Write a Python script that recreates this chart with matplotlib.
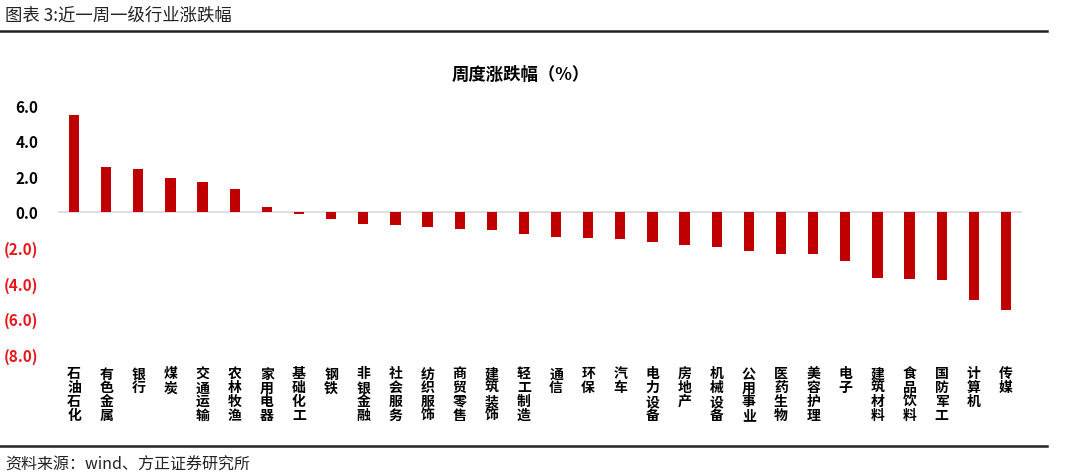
import matplotlib
matplotlib.use("Agg")
import matplotlib.pyplot as plt
from matplotlib.lines import Line2D
from matplotlib.ticker import FuncFormatter

plt.rcParams['font.family'] = ['Noto Sans CJK SC', 'DejaVu Sans']

categories = ["石油石化", "有色金属", "银行", "煤炭", "交通运输", "农林牧渔", "家用电器",
              "基础化工", "钢铁", "非银金融", "社会服务", "纺织服饰", "商贸零售", "建筑装饰",
              "轻工制造", "通信", "环保", "汽车", "电力设备", "房地产", "机械设备", "公用事业",
              "医药生物", "美容护理", "电子", "建筑材料", "食品饮料", "国防军工", "计算机", "传媒"]
values = [5.44, 2.49, 2.39, 1.90, 1.69, 1.30, 0.28,
          -0.13, -0.40, -0.70, -0.75, -0.88, -0.96, -1.00,
          -1.26, -1.40, -1.45, -1.55, -1.72, -1.85, -2.00, -2.20,
          -2.37, -2.37, -2.79, -3.75, -3.80, -3.84, -4.99, -5.55]
yticks = [6, 4, 2, 0, -2, -4, -6, -8]

W, H = 1080, 477
fig = plt.figure(figsize=(W / 100, H / 100), dpi=100)

ax = fig.add_axes([58 / W, 1 - 355 / H, (1022 - 58) / W, (355 - 106) / H])
x = list(range(len(categories)))
ax.bar(x, values, width=0.32, color="#C00000", zorder=3)
ax.axhline(0, color="#D9D9D9", lw=1.2, zorder=2)
ax.set_xlim(-0.5, len(categories) - 0.5)
ax.set_ylim(-8, 6)
ax.set_yticks(yticks)
ax.yaxis.set_major_formatter(FuncFormatter(lambda v, p: f"{v:.1f}" if v >= 0 else f"({abs(v):.1f})"))
for s in ax.spines.values():
    s.set_visible(False)
ax.tick_params(axis='y', length=0, pad=14, labelsize=11)
ax.tick_params(axis='x', length=0, pad=9)
ax.set_xticks(x)
ax.set_xticklabels(["\n".join(c) for c in categories], fontsize=10, fontweight='heavy',
                   linespacing=0.98, va='top')
for lab, v in zip(ax.get_yticklabels(), yticks):
    lab.set_fontweight('heavy')
    lab.set_color('black' if v >= 0 else '#E8161B')

fig.text(521 / W, 1 - 75 / H, "周度涨跌幅（%）", ha='center', va='center', fontsize=12.5,
         fontweight='heavy')
fig.text(5 / W, 1 - 16 / H, "图表 3:近一周一级行业涨跌幅", ha='left', va='center', fontsize=12.5,
         color='#222222')
fig.add_artist(Line2D([0, 1047 / W], [1 - 32 / H, 1 - 32 / H], color='#222222', lw=1.8))
fig.add_artist(Line2D([0, 1047 / W], [1 - 447 / H, 1 - 447 / H], color='#222222', lw=1.8))
fig.text(5 / W, 1 - 465 / H, "资料来源：wind、方正证券研究所", ha='left', va='center', fontsize=11.5,
         style='italic', color='#222222')

fig.savefig("out.png", dpi=100)
